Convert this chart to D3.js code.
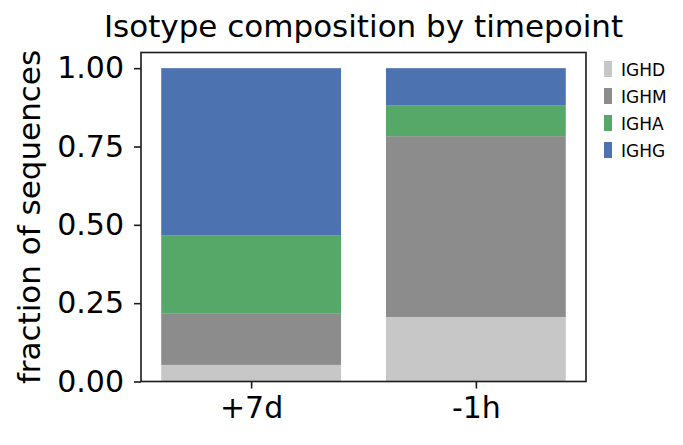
<!DOCTYPE html>
<html lang="en">
<head>
    <meta charset="UTF-8">
    <title>Isotype composition by timepoint</title>
    <script src="https://d3js.org/d3.v7.min.js"></script>
    <style>
        body {
            margin: 0;
            padding: 0;
            background-color: #ffffff;
        }

        svg {
            display: block;
        }

        text {
            font-family: "DejaVu Sans", sans-serif;
            fill: #000000;
        }
    </style>
</head>
<body>
    <script>
        // Values
        const timepoints = ["+7d", "-1h"];
        const isotypes = ["IGHD", "IGHM", "IGHA", "IGHG"];
        const ighd = [0.053, 0.206];
        const ighm = [0.165, 0.577];
        const igha = [0.249, 0.099];
        const ighg = [0.533, 0.118];
        const yTicks = [0, 0.25, 0.5, 0.75, 1.0];
        const colors = ["#c7c7c7", "#8c8c8c", "#55a868", "#4c72b0"];

        const width = 683;
        const height = 445;
        const margin = { top: 52.5, right: 97, bottom: 63.5, left: 141 };

        const svg = d3.select("body").append("svg")
            .attr("width", width)
            .attr("height", height);

        // Build rows for the stack from the named arrays
        const seriesValues = [ighd, ighm, igha, ighg];
        const rows = timepoints.map((t, i) => {
            const row = { timepoint: t };
            isotypes.forEach((iso, k) => { row[iso] = seriesValues[k][i]; });
            return row;
        });

        const stacked = d3.stack().keys(isotypes)(rows);

        // Category axis behaves like matplotlib: bars of width 0.8, 5% margins
        const x = d3.scaleLinear()
            .domain([-0.49, 1.49])
            .range([margin.left, width - margin.right]);

        const y = d3.scaleLinear()
            .domain([0, 1.05])
            .range([height - margin.bottom, margin.top]);

        const barWidth = 0.8;

        const color = d3.scaleOrdinal().domain(isotypes).range(colors);

        // Draw the stacked bars
        svg.append("g")
            .selectAll("g")
            .data(stacked)
            .enter().append("g")
            .attr("fill", d => color(d.key))
            .selectAll("rect")
            .data(d => d)
            .enter().append("rect")
            .attr("x", (d, i) => x(i - barWidth / 2))
            .attr("width", (d, i) => x(i + barWidth / 2) - x(i - barWidth / 2))
            .attr("y", d => y(d[1]))
            .attr("height", d => y(d[0]) - y(d[1]));

        // Y axis
        const yAxis = d3.axisLeft(y)
            .tickValues(yTicks)
            .tickFormat(d3.format(".2f"))
            .tickSize(7)
            .tickPadding(10);

        const gy = svg.append("g")
            .attr("transform", `translate(${margin.left},0)`)
            .call(yAxis);
        gy.select(".domain").remove();
        gy.selectAll(".tick line").attr("stroke", "#1a1a1a").attr("stroke-width", 1.6);
        gy.selectAll(".tick text")
            .style("font-family", "DejaVu Sans")
            .style("font-size", "30px")
            .attr("fill", "#000");

        // X axis
        const xAxis = d3.axisBottom(x)
            .tickValues(d3.range(timepoints.length))
            .tickFormat(i => timepoints[i])
            .tickSize(7)
            .tickPadding(8);

        const gx = svg.append("g")
            .attr("transform", `translate(0,${height - margin.bottom})`)
            .call(xAxis);
        gx.select(".domain").remove();
        gx.selectAll(".tick line").attr("stroke", "#1a1a1a").attr("stroke-width", 1.6);
        gx.selectAll(".tick text")
            .style("font-family", "DejaVu Sans")
            .style("font-size", "30px")
            .attr("fill", "#000");

        // Axes frame
        svg.append("rect")
            .attr("x", margin.left)
            .attr("y", margin.top)
            .attr("width", width - margin.left - margin.right)
            .attr("height", height - margin.top - margin.bottom)
            .attr("fill", "none")
            .attr("stroke", "#1a1a1a")
            .attr("stroke-width", 1.6);

        // Title
        svg.append("text")
            .attr("x", (margin.left + width - margin.right) / 2)
            .attr("y", 37)
            .attr("text-anchor", "middle")
            .style("font-size", "31px")
            .text("Isotype composition by timepoint");

        // Y label
        svg.append("text")
            .attr("transform", `translate(40,${(margin.top + height - margin.bottom) / 2}) rotate(-90)`)
            .attr("text-anchor", "middle")
            .style("font-size", "31px")
            .text("fraction of sequences");

        // Legend
        const legend = svg.append("g")
            .selectAll("g")
            .data(isotypes)
            .enter().append("g")
            .attr("transform", (d, i) => `translate(604,${69 + i * 27})`);

        legend.append("rect")
            .attr("x", 0)
            .attr("y", -8)
            .attr("width", 8)
            .attr("height", 16)
            .attr("fill", d => color(d));

        legend.append("text")
            .attr("x", 17)
            .attr("y", 7)
            .style("font-size", "17px")
            .text(d => d);
    </script>
</body>
</html>
